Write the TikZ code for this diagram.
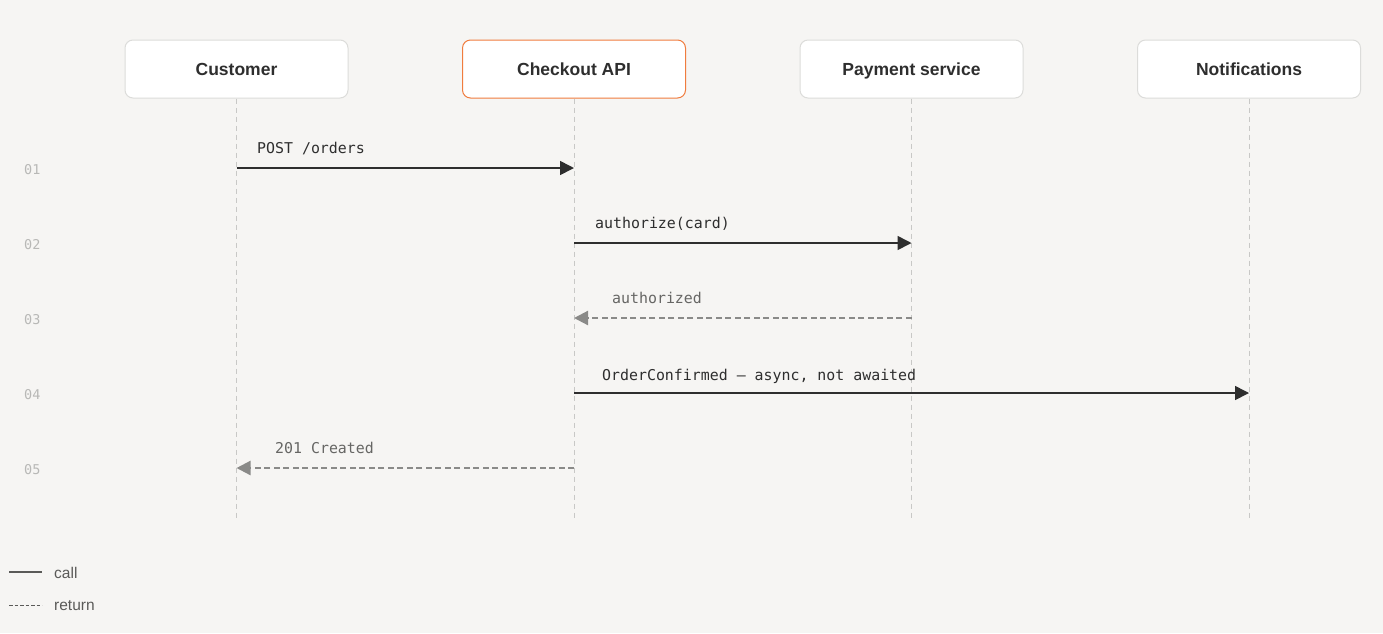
\documentclass[tikz,border=0pt]{standalone}
\usepackage{fontspec}
\setmainfont{Liberation Sans}
\newfontfamily\monof{DejaVu Sans Mono}
\usetikzlibrary{arrows.meta}
\definecolor{bg}{HTML}{F6F5F3}
\definecolor{boxline}{HTML}{DCDCDA}
\definecolor{accent}{HTML}{F07C3E}
\definecolor{ink}{HTML}{2E2E2E}
\definecolor{retc}{HTML}{8A8A88}
\definecolor{retlab}{HTML}{666664}
\definecolor{lifec}{HTML}{C8C8C6}
\definecolor{numc}{HTML}{B8B8B6}
\definecolor{legc}{HTML}{5A5A58}
\begin{document}
\begin{tikzpicture}[x=1pt,y=-1pt,
  actor/.style={draw=boxline,line width=1pt,fill=white,rounded corners=8pt,
    minimum width=223pt,minimum height=58pt,inner sep=0pt,
    text height=12.6pt,text depth=0pt,
    font=\fontsize{17.5}{20}\selectfont\bfseries,text=ink},
  lifeline/.style={draw=lifec,line width=1pt,dash pattern=on 5pt off 4pt},
  callarrow/.style={draw=ink,line width=1.6pt,-{Triangle[length=14pt,width=14pt]}},
  retarrow/.style={draw=retc,line width=2.2pt,dash pattern=on 6pt off 3.5pt,
    -{Triangle[length=14pt,width=14pt]}},
  calllab/.style={anchor=base west,inner sep=0pt,font=\monof\fontsize{14.9}{16}\selectfont,text=ink},
  retlab/.style={anchor=base west,inner sep=0pt,font=\monof\fontsize{14.9}{16}\selectfont,text=retlab},
  rownum/.style={anchor=base west,inner sep=0pt,font=\monof\fontsize{13.5}{15}\selectfont,text=numc},
  legtext/.style={anchor=west,inner sep=0pt,font=\fontsize{15.5}{18}\selectfont,text=legc}]
\fill[bg] (0,0) rectangle (1383,633);
\useasboundingbox (0,0) rectangle (1383,633);

% actors
\node[actor] (cu) at (236.5,69) {Customer};
\node[actor,draw=accent] (ck) at (574,69) {Checkout API};
\node[actor] (pa) at (911.5,69) {Payment service};
\node[actor] (no) at (1249,69) {Notifications};

% lifeline ends
\coordinate (cuE) at (236.5,520);
\coordinate (ckE) at (574,520);
\coordinate (paE) at (911.5,520);
\coordinate (noE) at (1249,520);
\draw[lifeline] (cu.south) -- (cuE);
\draw[lifeline] (ck.south) -- (ckE);
\draw[lifeline] (pa.south) -- (paE);
\draw[lifeline] (no.south) -- (noE);

% rows
\coordinate (r1) at (0,168);
\coordinate (r2) at (0,243);
\coordinate (r3) at (0,318);
\coordinate (r4) at (0,393);
\coordinate (r5) at (0,468);
\node[rownum] (n1) at (24,174) {01};
\node[rownum] (n2) at (24,249) {02};
\node[rownum] (n3) at (24,324) {03};
\node[rownum] (n4) at (24,399) {04};
\node[rownum] (n5) at (24,474) {05};

% messages
\draw[callarrow] (cu.south |- r1) -- (ck.south |- r1);
\node[calllab] (l1) at (257,153) {POST /orders};
\draw[callarrow] (ck.south |- r2) -- (pa.south |- r2);
\node[calllab] (l2) at (595,228) {authorize(card)};
\draw[retarrow] (pa.south |- r3) -- (ck.south |- r3);
\node[retlab] (l3) at (612,303) {authorized};
\draw[callarrow] (ck.south |- r4) -- (no.south |- r4);
\node[calllab] (l4) at (602,380) {OrderConfirmed — async, not awaited};
\draw[retarrow] (ck.south |- r5) -- (cu.south |- r5);
\node[retlab] (l5) at (275,453) {201 Created};

% legend
\coordinate (lg1a) at (9,572);
\coordinate (lg1b) at (42,572);
\coordinate (lg2a) at (9,605);
\coordinate (lg2b) at (42,605);
\draw[draw=legc,line width=1.3pt] (lg1a) -- (lg1b);
\draw[draw=legc,line width=1pt,dash pattern=on 3.5pt off 2pt] (lg2a) -- (lg2b);
\node[legtext] (lt1) at (54,572.5) {call};
\node[legtext] (lt2) at (54,605.5) {return};
\end{tikzpicture}
\end{document}
